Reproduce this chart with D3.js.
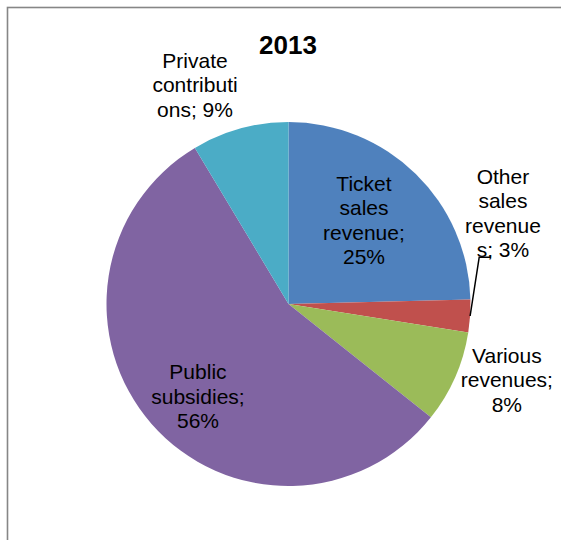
<!DOCTYPE html>
<html>
<head>
<meta charset="utf-8">
<script src="https://cdn.jsdelivr.net/npm/d3@7"></script>
<style>
  html, body { margin: 0; padding: 0; background: #fff; }
  svg { display: block; font-family: "Liberation Sans", Arial, sans-serif; }
</style>
</head>
<body>
<svg id="chart" width="561" height="540"></svg>
<script>
// Revenue structure, 2013 (share of total, %)
const categories = ["Ticket sales revenue", "Other sales revenues", "Various revenues", "Public subsidies", "Private contributions"];
const shares = [24.6, 2.9, 8.2, 55.7, 8.6];
// Label text as it wraps in the chart, one array of lines per category (percentage appended)
const labelLines = [
  ["Ticket", "sales", "revenue;"],
  ["Other", "sales", "revenue", "s;"],
  ["Various", "revenues;"],
  ["Public", "subsidies;"],
  ["Private", "contributi", "ons;"]
];
const colors = ["#4F81BD", "#C0504D", "#9BBB59", "#8064A2", "#4BACC6"];
const title = "2013";

// Layout
const W = 561, H = 540;
const cx = 288.5, cy = 304, R = 182;
const fontSize = 21, lineH = 24.5;
// Label placement in polar terms: radius factor and angular nudge (degrees) from the slice mid-angle
const labelPlace = [
  { k: 0.62, da: -2.3 },
  { k: 1.28, da: -26.8 },
  { k: 1.27, da: -4.6 },
  { k: 0.71, da: -4.3 },
  { k: 1.31, da: -7.6 }
];

const svg = d3.select("#chart");

// Chart frame (top and left edges visible)
svg.append("rect")
  .attr("x", 7.5).attr("y", 7.5)
  .attr("width", 700).attr("height", 700)
  .attr("fill", "none")
  .attr("stroke", "#868686")
  .attr("stroke-width", 1.6);

const data = categories.map((c, i) => ({ name: c, value: shares[i], i }));
const total = d3.sum(shares);
const fmt = d3.format(".0%");

const pie = d3.pie().value(d => d.value).sort(null);
const arcs = pie(data);
const arc = d3.arc().innerRadius(0).outerRadius(R);

const g = svg.append("g").attr("transform", `translate(${cx},${cy})`);

g.selectAll("path.slice")
  .data(arcs)
  .join("path")
  .attr("class", "slice")
  .attr("d", arc)
  .attr("fill", d => colors[d.data.i]);

function polar(angle, r) {
  return [Math.sin(angle) * r, -Math.cos(angle) * r];
}

// Labels
arcs.forEach(a => {
  const i = a.data.i;
  const mid = (a.startAngle + a.endAngle) / 2;
  const p = labelPlace[i];
  const [lx, ly] = polar(mid + p.da * Math.PI / 180, R * p.k);
  const lines = labelLines[i].slice();
  const pct = fmt(a.data.value / total);
  lines[lines.length - 1] = lines[lines.length - 1] + " " + pct;
  if (i === 0 || i === 2 || i === 3) {
    // percentage on its own line
    lines[lines.length - 1] = labelLines[i][labelLines[i].length - 1];
    lines.push(pct);
  }
  const n = lines.length;
  const firstBase = ly - (n - 1) / 2 * lineH + 7.5;
  const t = g.append("text")
    .attr("text-anchor", "middle")
    .attr("font-size", fontSize)
    .attr("fill", "#000");
  lines.forEach((ln, k) => {
    t.append("tspan").attr("x", lx).attr("y", firstBase + k * lineH).text(ln);
  });

  // Leader line for the displaced small-slice label
  if (p.k > 1 && Math.abs(p.da) > 15) {
    const [ex, ey] = polar(mid, R);
    const lastBase = firstBase + (n - 1) * lineH;
    const kx = lx - 23.7;
    g.append("polyline")
      .attr("points", [[ex, ey], [kx, lastBase], [kx + 11.7, lastBase]].map(q => q.join(",")).join(" "))
      .attr("fill", "none")
      .attr("stroke", "#000")
      .attr("stroke-width", 1.5);
  }
});

// Title
svg.append("text")
  .attr("x", 288)
  .attr("y", 54)
  .attr("text-anchor", "middle")
  .attr("font-size", 26)
  .attr("font-weight", "bold")
  .attr("fill", "#000")
  .text(title);
</script>
</body>
</html>
